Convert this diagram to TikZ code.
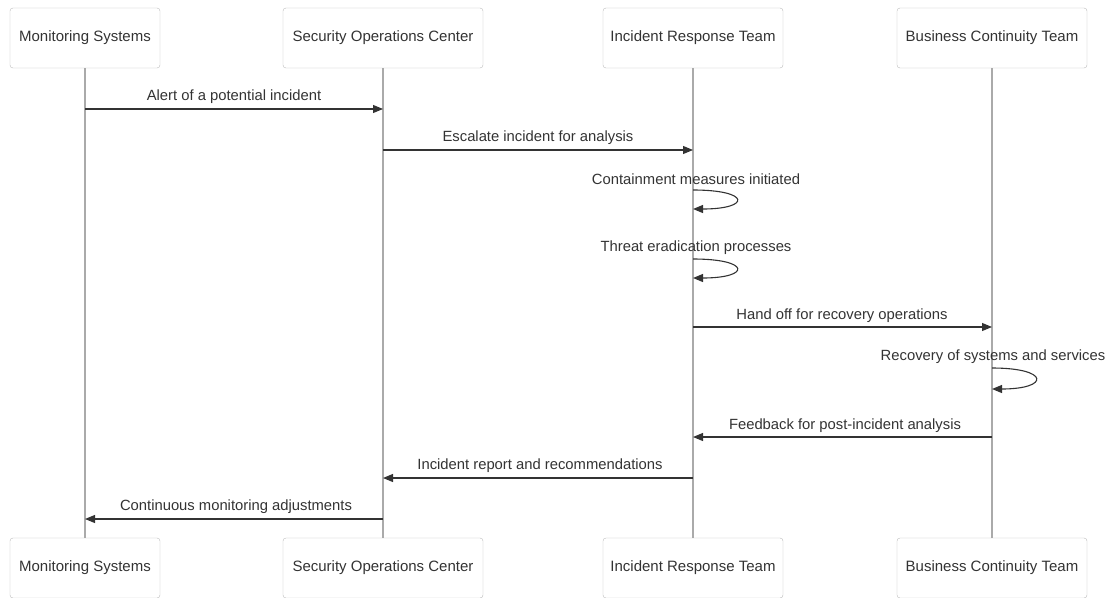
\documentclass[tikz,border=0pt]{standalone}
\usepackage{fontspec}
\setmainfont{Liberation Sans}
\usepackage{xcolor}
\usetikzlibrary{arrows.meta,positioning}
\definecolor{inkgray}{HTML}{333333}
\definecolor{boxline}{HTML}{BBBBBB}
\definecolor{lifegray}{HTML}{AAAAAA}

\begin{document}
\begin{tikzpicture}[x=1pt,y=1pt]
\tikzset{actor/.style={draw=boxline,rounded corners=3pt,minimum height=60pt,text=inkgray,font=\fontsize{15}{17}\selectfont,inner sep=0pt},
msg/.style={draw=inkgray,line width=1.1pt,-{Triangle[length=10pt,width=8pt]}},
lbl/.style={text=inkgray,font=\fontsize{14.8}{16}\selectfont,inner sep=0pt}}
\useasboundingbox (0,0) rectangle (1110,-597);
\node[actor,minimum width=150pt] (ms) at (85,-38) {Monitoring Systems};
\node[actor,minimum width=200pt] (soc) at (383,-38) {Security Operations Center};
\node[actor,minimum width=180pt] (irt) at (693,-38) {Incident Response Team};
\node[actor,minimum width=190pt] (bct) at (992,-38) {Business Continuity Team};
\node[actor,minimum width=150pt] (msb) at (85,-568) {Monitoring Systems};
\node[actor,minimum width=200pt] (socb) at (383,-568) {Security Operations Center};
\node[actor,minimum width=180pt] (irtb) at (693,-568) {Incident Response Team};
\node[actor,minimum width=190pt] (bctb) at (992,-568) {Business Continuity Team};
\draw [lifegray,line width=1.5pt] (ms) -- (msb);
\draw [lifegray,line width=1.5pt] (soc) -- (socb);
\draw [lifegray,line width=1.5pt] (irt) -- (irtb);
\draw [lifegray,line width=1.5pt] (bct) -- (bctb);
\draw [msg] (ms |- 0,-109) -- (soc |- 0,-109);
\node[lbl] (m1) at (234,-97) {Alert of a potential incident};
\draw [msg] (soc |- 0,-150) -- (irt |- 0,-150);
\node[lbl] (m2) at (538,-138) {Escalate incident for analysis};
\node[lbl] (m3) at (696,-179) {Containment measures initiated};
\draw [msg] (irt |- 0,-190) .. controls +(58,0) and +(58,0) .. (irt |- 0,-209);
\node[lbl] (m4) at (696,-248) {Threat eradication processes};
\draw [msg] (irt |- 0,-259) .. controls +(58,0) and +(58,0) .. (irt |- 0,-278);
\draw [msg] (irt |- 0,-327) -- (bct |- 0,-327);
\node[lbl] (m5) at (842,-316) {Hand off for recovery operations};
\node[lbl] (m6) at (993,-357) {Recovery of systems and services};
\draw [msg] (bct |- 0,-368) .. controls +(58,0) and +(58,0) .. (bct |- 0,-389);
\draw [msg] (bct |- 0,-437) -- (irt |- 0,-437);
\node[lbl] (m7) at (845,-426) {Feedback for post-incident analysis};
\draw [msg] (irt |- 0,-478) -- (soc |- 0,-478);
\node[lbl] (m8) at (540,-466) {Incident report and recommendations};
\draw [msg] (soc |- 0,-519) -- (ms |- 0,-519);
\node[lbl] (m9) at (236,-507) {Continuous monitoring adjustments};
\end{tikzpicture}
\end{document}
